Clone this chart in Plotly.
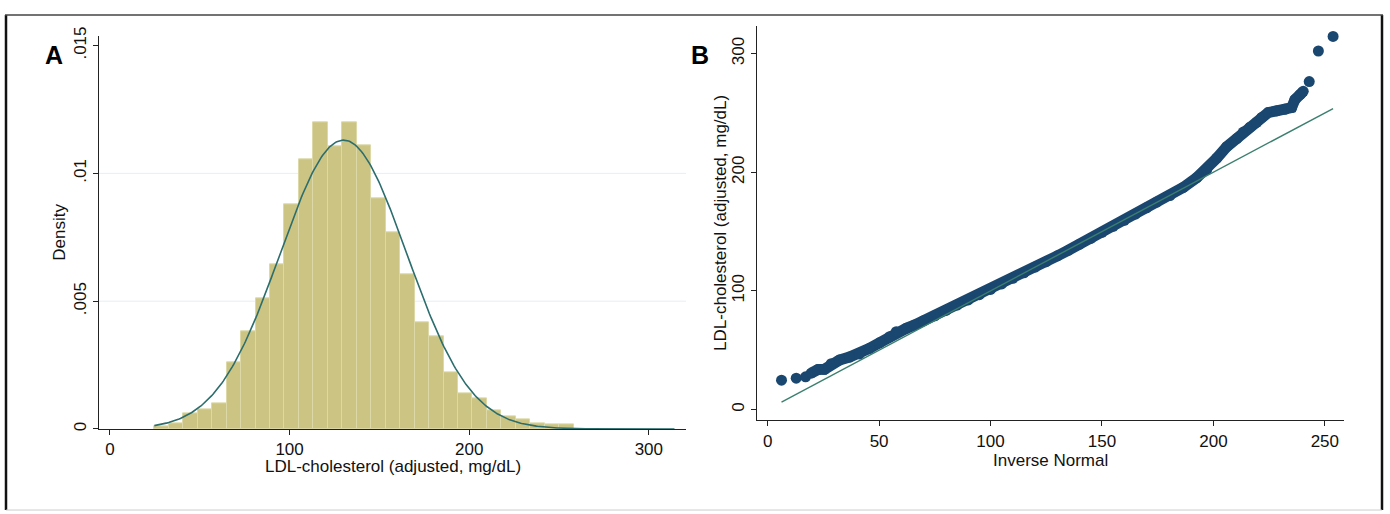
import numpy as np
import plotly.graph_objects as go

# ---- Panel A: histogram of adjusted LDL-cholesterol ----
bin_start = 24.7          # mg/dL, lower edge of first bin
bin_width = 8.05          # mg/dL
density = [0.00012, 0.00022, 0.00062, 0.00076, 0.00099, 0.00260, 0.00381,
           0.00510, 0.00643, 0.00879, 0.01053, 0.01199, 0.01106, 0.01198,
           0.01109, 0.00903, 0.00768, 0.00605, 0.00416, 0.00362, 0.00220,
           0.00141, 0.00120, 0.00071, 0.00048, 0.00037, 0.00022, 0.00020,
           0.00020]

# fitted normal overlay
ldl_mean = 130.0
ldl_sd = 35.3
ldl_min = 24.7
ldl_max = 314.3

a_xticks = [0, 100, 200, 300]
a_yticks = [0, 0.005, 0.01, 0.015]
a_yticklabels = ["0", ".005", ".01", ".015"]

# ---- Panel B: normal quantile plot ----
qq_x = [6.2, 12.8, 17.0, 19.5, 22.5, 25.5, 28.5, 32.2, 36.7, 41.2, 45.7,
        50.2, 54.7, 57.7, 62.2, 66.0, 70.0, 75.0, 80.0, 85.0, 90.0, 95.0,
        100.0, 105.0, 110.0, 115.0, 120.0, 125.0, 130.0, 135.0, 140.0, 145.0,
        150.0, 155.0, 160.0, 165.0, 170.0, 174.6, 180.5, 186.5, 192.5, 197.0,
        201.5, 206.0, 210.5, 213.4, 216.4, 219.4, 221.7, 224.6, 228.4, 232.1,
        235.1, 236.6, 238.9, 240.3, 243.0, 247.1, 253.7]
qq_y = [24.7, 26.4, 27.5, 30.6, 33.6, 33.9, 38.6, 41.6, 44.2, 46.8, 51.5,
        56.2, 61.3, 65.6, 68.4, 71.3, 74.8, 79.0, 83.5, 88.0, 92.3, 96.8,
        101.2, 105.8, 110.6, 115.2, 120.0, 124.6, 129.5, 134.3, 139.3, 144.2,
        149.3, 154.4, 159.5, 164.7, 170.0, 174.8, 180.3, 187.2, 195.4, 202.3,
        211.9, 221.5, 228.4, 233.9, 238.0, 242.1, 246.2, 250.3, 251.8, 253.1,
        254.5, 261.3, 265.4, 268.2, 276.4, 302.2, 314.5]
ref_line = [6.2, 253.7]   # y = x reference line endpoints

b_xticks = [0, 50, 100, 150, 200, 250]
b_yticks = [0, 100, 200, 300]

W, H = 1390, 514
FONT = "Liberation Sans, Arial, sans-serif"
AXIS_COL = "#222222"

centers = [bin_start + bin_width * (i + 0.5) for i in range(len(density))]
curve_x = np.linspace(ldl_min, ldl_max, 400)
curve_y = np.exp(-0.5 * ((curve_x - ldl_mean) / ldl_sd) ** 2) / (ldl_sd * np.sqrt(2 * np.pi))

fig = go.Figure()

fig.add_trace(go.Bar(
    x=centers, y=density, width=bin_width,
    marker=dict(color="#cbc483", line=dict(color="#dcd8a8", width=1)),
    xaxis="x", yaxis="y", showlegend=False, hoverinfo="skip"))

fig.add_trace(go.Scatter(
    x=curve_x, y=curve_y, mode="lines",
    line=dict(color="#2c6d6d", width=1.6),
    xaxis="x", yaxis="y", showlegend=False, hoverinfo="skip"))

# dense part of the quantile band
fig.add_trace(go.Scatter(
    x=qq_x[3:-3], y=qq_y[3:-3], mode="lines",
    line=dict(color="#1a476f", width=11),
    xaxis="x2", yaxis="y2", showlegend=False, hoverinfo="skip"))
fig.add_trace(go.Scatter(
    x=qq_x, y=qq_y, mode="markers",
    marker=dict(color="#1a476f", size=11, line=dict(width=0)),
    xaxis="x2", yaxis="y2", showlegend=False, hoverinfo="skip"))
fig.add_trace(go.Scatter(
    x=ref_line, y=ref_line, mode="lines",
    line=dict(color="#3b7f6d", width=1.4),
    xaxis="x2", yaxis="y2", showlegend=False, hoverinfo="skip"))


def px_x(p):
    return p / W


def px_y(p):
    return 1 - p / H


common = dict(showline=True, linecolor=AXIS_COL, linewidth=1, ticks="outside",
              ticklen=5, tickwidth=1, tickcolor=AXIS_COL, showgrid=False,
              zeroline=False, tickfont=dict(family=FONT, size=17, color="#111"))
title_font = dict(family=FONT, size=17, color="#111")

fig.update_layout(
    width=W, height=H, margin=dict(l=0, r=0, t=0, b=0),
    paper_bgcolor="white", plot_bgcolor="white",
    bargap=0,
    xaxis=dict(domain=[px_x(99), px_x(686)], range=[-6.1, 320.7],
               tickvals=a_xticks, anchor="y", **common),
    yaxis=dict(domain=[px_y(429), px_y(27)], range=[0, 0.01536],
               tickvals=a_yticks, ticktext=a_yticklabels, tickangle=-90,
               anchor="x", **common),
    xaxis2=dict(domain=[px_x(757), px_x(1344)], range=[-4.8, 258.6],
                tickvals=b_xticks, anchor="y2", **common),
    yaxis2=dict(domain=[px_y(420), px_y(16)], range=[-9.06, 323.6],
                tickvals=b_yticks, tickangle=-90, anchor="x2", **common),
)

# axis titles
titles = [("LDL-cholesterol (adjusted, mg/dL)", 393, 467, 0),
          ("Density", 60, 228, -90),
          ("Inverse Normal", 1050, 461, 0),
          ("LDL-cholesterol (adjusted, mg/dL)", 721, 218, -90)]
for text, cx, cy, ang in titles:
    fig.add_annotation(text=text, xref="paper", yref="paper",
                       x=px_x(cx), y=px_y(cy), showarrow=False, textangle=ang,
                       font=title_font, xanchor="center", yanchor="middle")

# faint horizontal grid in panel A
for g in [0.005, 0.01]:
    fig.add_shape(type="line", xref="x", yref="y", x0=-6.1, x1=320.7, y0=g, y1=g,
                  line=dict(color="#e6eff0", width=1), layer="below")

# outer frame
frame = [((6, 5), (6, 512), "#111111", 2.5),
         ((1382, 5), (1382, 512), "#111111", 2.5),
         ((5, 5), (1383, 5), "#444444", 1.5),
         ((6, 512), (1382, 512), "#cccccc", 1)]
for (x0, y0), (x1, y1), col, w in frame:
    fig.add_shape(type="line", xref="paper", yref="paper",
                  x0=px_x(x0), y0=px_y(y0), x1=px_x(x1), y1=px_y(y1),
                  line=dict(color=col, width=w))

for label, cx in [("A", 54), ("B", 700)]:
    fig.add_annotation(text="<b>%s</b>" % label, xref="paper", yref="paper",
                       x=px_x(cx), y=px_y(46), showarrow=False,
                       font=dict(family=FONT, size=25, color="black"),
                       xanchor="center", yanchor="middle")

fig.write_html("out.html")
